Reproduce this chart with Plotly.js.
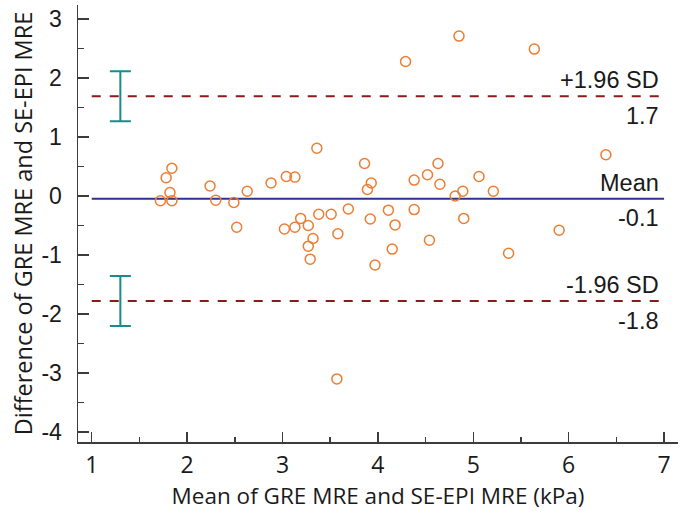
<!DOCTYPE html>
<html>
<head>
<meta charset="utf-8">
<script src="https://cdn.plot.ly/plotly-3.0.1.min.js"></script>
<style>html,body{margin:0;padding:0;background:#fff;}#chart{width:685px;height:516px;}</style>
</head>
<body>
<div id="chart"></div>
<script>
// Bland-Altman data: mean of the two methods (x) and their difference (y)
var meanValues = [1.84, 1.78, 1.82, 1.72, 1.84, 2.24, 2.30, 2.49, 2.52, 2.63,
                  2.88, 3.04, 3.13, 3.02, 3.13, 3.19, 3.36, 3.86, 3.93, 3.89,
                  4.38, 4.52, 4.63, 4.65, 3.27, 3.38, 3.51, 3.69, 3.58, 3.32,
                  3.27, 3.29, 3.92, 4.11, 4.18, 4.38, 4.15, 3.97, 4.54, 5.06,
                  4.89, 4.81, 5.21, 6.39, 4.90, 5.90, 5.37, 4.29, 4.85, 5.64, 3.57];
var diffValues = [0.47, 0.31, 0.06, -0.08, -0.08, 0.17, -0.07, -0.11, -0.53, 0.08,
                  0.22, 0.33, 0.32, -0.56, -0.53, -0.38, 0.81, 0.55, 0.22, 0.11,
                  0.27, 0.36, 0.55, 0.20, -0.50, -0.31, -0.31, -0.22, -0.64, -0.72,
                  -0.85, -1.07, -0.39, -0.24, -0.49, -0.23, -0.90, -1.17, -0.75, 0.33,
                  0.08, 0.00, 0.08, 0.70, -0.38, -0.58, -0.97, 2.28, 2.71, 2.49, -3.10];

var lineNames = ['+1.96 SD', 'Mean', '-1.96 SD'];
var lineValues = [1.69, -0.045, -1.78];
var lineLabels = ['1.7', '-0.1', '-1.8'];
var lineX = [1, 7];

// confidence intervals of the limits of agreement
var ciX = [1.30, 1.30];
var ciCenter = [1.69, -1.78];
var ciHalf = [0.425, 0.425];

var xTicks = [1, 2, 3, 4, 5, 6, 7];
var yTicks = [-4, -3, -2, -1, 0, 1, 2, 3];

var limitStyles = [
  {color: '#8B1A1A', dash: 'dash', width: 2},
  {color: '#2E3192', dash: 'solid', width: 2},
  {color: '#8B1A1A', dash: 'dash', width: 2}
];

var traces = [];
lineValues.forEach(function (v, i) {
  traces.push({
    type: 'scatter', mode: 'lines', x: lineX, y: [v, v],
    line: limitStyles[i], hoverinfo: 'skip', showlegend: false
  });
});
traces.push({
  type: 'scatter', mode: 'markers', x: ciX, y: ciCenter,
  marker: {size: 1, color: 'rgba(0,0,0,0)'},
  error_y: {type: 'data', array: ciHalf, visible: true, color: '#1A8A8A', thickness: 2, width: 10.5},
  showlegend: false, hoverinfo: 'skip'
});
traces.push({
  type: 'scatter', mode: 'markers', x: meanValues, y: diffValues,
  marker: {symbol: 'circle-open', size: 10, color: '#ED7D31', line: {width: 1.5, color: '#ED7D31'}},
  showlegend: false
});

var annFont = {family: 'Liberation Sans, Arial, sans-serif', size: 23.5, color: '#1a1a1a'};
var annotations = [];
lineValues.forEach(function (v, i) {
  annotations.push({x: 7, y: v, xref: 'x', yref: 'y', text: lineNames[i], showarrow: false,
    xanchor: 'right', yanchor: 'middle', xshift: -3, yshift: 16, font: annFont});
  annotations.push({x: 7, y: v, xref: 'x', yref: 'y', text: lineLabels[i], showarrow: false,
    xanchor: 'right', yanchor: 'middle', xshift: -3, yshift: -19.5, font: annFont});
});

var axisColor = '#3c3c3c';
var layout = {
  width: 685, height: 516,
  margin: {l: 78, r: 7, t: 5, b: 74, pad: 0},
  paper_bgcolor: '#ffffff', plot_bgcolor: '#ffffff',
  font: {family: 'Liberation Sans, Arial, sans-serif', color: '#1a1a1a'},
  showlegend: false,
  xaxis: {
    range: [0.856, 7.146], tickvals: xTicks, ticktext: xTicks.map(String),
    showgrid: false, zeroline: false, showline: true, linecolor: axisColor, linewidth: 1.5,
    ticks: 'inside', ticklen: 10, tickwidth: 1.5, tickcolor: axisColor,
    minor: {dtick: 0.5, tick0: 0.5, ticks: 'inside', ticklen: 5, tickwidth: 1.5, tickcolor: axisColor, showgrid: false},
    tickfont: {family: 'Open Sans, sans-serif', size: 23, color: '#1a1a1a'},
    ticklabelstandoff: 2,
    title: {text: 'Mean of GRE MRE and SE-EPI MRE (kPa)', font: {family: 'Open Sans, sans-serif', size: 22.5, color: '#1a1a1a'}, standoff: 0}
  },
  yaxis: {
    range: [-4.169, 3.237], tickvals: yTicks, ticktext: yTicks.map(String),
    showgrid: false, zeroline: false, showline: true, linecolor: axisColor, linewidth: 1.5,
    ticks: 'inside', ticklen: 11, tickwidth: 1.5, tickcolor: axisColor,
    minor: {dtick: 0.5, tick0: 0.5, ticks: 'inside', ticklen: 6, tickwidth: 1.5, tickcolor: axisColor, showgrid: false},
    tickfont: {family: 'Liberation Sans, Arial, sans-serif', size: 23, color: '#1a1a1a'},
    ticklabelstandoff: 10,
    title: {text: 'Difference of GRE MRE and SE-EPI MRE', font: {family: 'Open Sans, sans-serif', size: 23.5, color: '#1a1a1a'}, standoff: 2}
  },
  annotations: annotations
};

Plotly.newPlot('chart', traces, layout, {displayModeBar: false, staticPlot: true});
</script>
</body>
</html>
